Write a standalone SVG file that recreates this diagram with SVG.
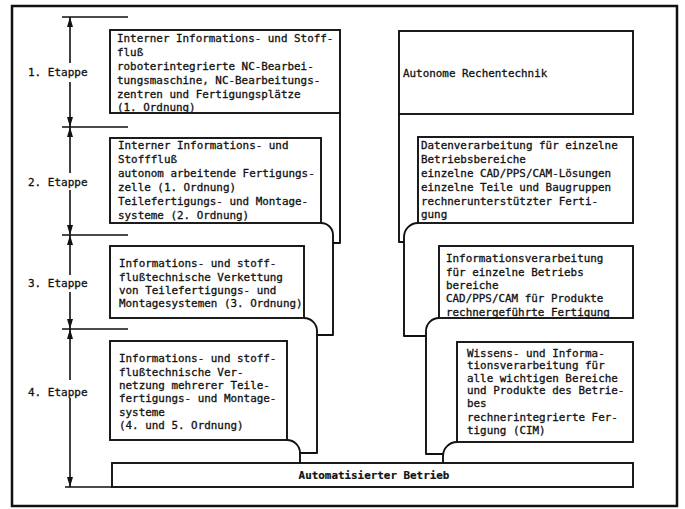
<svg xmlns="http://www.w3.org/2000/svg" width="685" height="509" viewBox="0 0 685 509">
<style>
  .ln{fill:none;stroke:#111;stroke-width:1.9;stroke-linejoin:round}
  .bx{fill:#fff;stroke:#111;stroke-width:1.9}
  .dim{fill:none;stroke:#111;stroke-width:1.6}
  text{font-family:"DejaVu Sans Mono","Liberation Mono",monospace;font-size:10.9px;fill:#111;stroke:#111;stroke-width:0.3}
  .lab{font-size:11px}
  .b{font-weight:bold;stroke-width:0.2}
</style>
<defs>
  <marker id="arr" viewBox="0 0 10 6" refX="10" refY="3" markerWidth="10" markerHeight="6" markerUnits="userSpaceOnUse" orient="auto">
    <path d="M0,0 L10,3 L0,6 z" fill="#111"/>
  </marker>
</defs>
<rect x="12" y="6" width="665" height="500" fill="#fff" stroke="#111" stroke-width="2.5"/>

<g id="connectors">
  <path class="ln" d="M340,113 V243 H333"/>
  <path class="ln" d="M321,223 A12,12 0 0 1 333,235 V335 H317"/>
  <path class="ln" d="M304,318 A13,13 0 0 1 317,331 V453 H300"/>
  <path class="ln" d="M287,440 A13,13 0 0 1 300,453 V463"/>
  <path class="ln" d="M399,114 V242 H404"/>
  <path class="ln" d="M418,223 A14,14 0 0 0 404,237 V336 H426"/>
  <path class="ln" d="M439,318 A13,13 0 0 0 426,331 V454 H443"/>
  <path class="ln" d="M457,442 A14,14 0 0 0 443,456 V463"/>
  <path class="dim" d="M62,17 H128 M62,127 H128 M62,235 H128 M62,329 H128 M65,487 H112"/>
  <path class="dim" d="M70,63 V17" marker-end="url(#arr)"/>
  <path class="dim" d="M70,82 V127" marker-end="url(#arr)"/>
  <path class="dim" d="M70,173 V127" marker-end="url(#arr)"/>
  <path class="dim" d="M70,190 V235" marker-end="url(#arr)"/>
  <path class="dim" d="M70,275 V235" marker-end="url(#arr)"/>
  <path class="dim" d="M70,292 V329" marker-end="url(#arr)"/>
  <path class="dim" d="M70,380 V329" marker-end="url(#arr)"/>
  <path class="dim" d="M70,398 V487" marker-end="url(#arr)"/>
</g>

<g id="etappe-labels">
  <text class="lab" x="28" y="76">1. Etappe</text>
  <text class="lab" x="28" y="186">2. Etappe</text>
  <text class="lab" x="28" y="287">3. Etappe</text>
  <text class="lab" x="28" y="396">4. Etappe</text>
</g>

<g id="L1">
  <rect class="bx" x="110" y="30" width="230" height="83"/>
  <text x="117" y="42">Interner Informations- und Stoff-</text>
  <text x="117" y="56">fluß</text>
  <text x="117" y="70">roboterintegrierte NC-Bearbei-</text>
  <text x="117" y="84">tungsmaschine, NC-Bearbeitungs-</text>
  <text x="117" y="98">zentren und Fertigungsplätze</text>
  <text x="117" y="111">(1. Ordnung)</text>
</g>

<g id="L2">
  <rect class="bx" x="110" y="138" width="211" height="85"/>
  <text x="118" y="149">Interner Informations- und</text>
  <text x="118" y="163">Stofffluß</text>
  <text x="118" y="177">autonom arbeitende Fertigungs-</text>
  <text x="118" y="191">zelle (1. Ordnung)</text>
  <text x="118" y="205">Teilefertigungs- und Montage-</text>
  <text x="118" y="219">systeme (2. Ordnung)</text>
</g>

<g id="L3">
  <rect class="bx" x="110" y="246" width="194" height="72"/>
  <text x="119" y="267">Informations- und stoff-</text>
  <text x="119" y="281">flußtechnische Verkettung</text>
  <text x="119" y="294">von Teilefertigungs- und</text>
  <text x="119" y="307">Montagesystemen (3. Ordnung)</text>
</g>

<g id="L4">
  <rect class="bx" x="110" y="341" width="177" height="99"/>
  <text x="119" y="362">Informations- und stoff-</text>
  <text x="119" y="376">flußtechnische Ver-</text>
  <text x="119" y="389">netzung mehrerer Teile-</text>
  <text x="119" y="402">fertigungs- und Montage-</text>
  <text x="119" y="416">systeme</text>
  <text x="119" y="429">(4. und 5. Ordnung)</text>
</g>

<g id="R1">
  <rect class="bx" x="399" y="31" width="234" height="83"/>
  <text x="403" y="77">Autonome Rechentechnik</text>
</g>

<g id="R2">
  <rect class="bx" x="418" y="137" width="215" height="86"/>
  <text x="421" y="149">Datenverarbeitung für einzelne</text>
  <text x="421" y="163">Betriebsbereiche</text>
  <text x="421" y="177">einzelne CAD/PPS/CAM-Lösungen</text>
  <text x="421" y="191">einzelne Teile und Baugruppen</text>
  <text x="421" y="205">rechnerunterstützter Ferti-</text>
  <text x="421" y="218">gung</text>
</g>

<g id="R3">
  <rect class="bx" x="439" y="246" width="194" height="72"/>
  <text x="446" y="262">Informationsverarbeitung</text>
  <text x="446" y="276">für einzelne Betriebs</text>
  <text x="446" y="289">bereiche</text>
  <text x="446" y="302">CAD/PPS/CAM für Produkte</text>
  <text x="446" y="316">rechnergeführte Fertigung</text>
</g>

<g id="R4">
  <rect class="bx" x="457" y="342" width="176" height="100"/>
  <text x="467" y="357">Wissens- und Informa-</text>
  <text x="467" y="369">tionsverarbeitung für</text>
  <text x="467" y="382">alle wichtigen Bereiche</text>
  <text x="467" y="394">und Produkte des Betrie-</text>
  <text x="467" y="407">bes</text>
  <text x="467" y="421">rechnerintegrierte Fer-</text>
  <text x="467" y="434">tigung (CIM)</text>
</g>

<g id="bottom">
  <rect class="bx" x="112" y="463" width="521" height="24"/>
  <text class="b" x="374" y="479" text-anchor="middle">Automatisierter Betrieb</text>
</g>
</svg>
